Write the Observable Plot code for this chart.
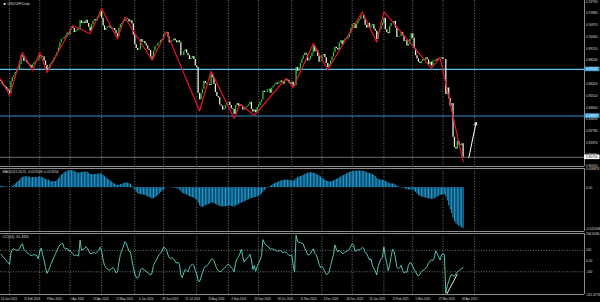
<!DOCTYPE html>
<html><head><meta charset="utf-8">
<script src="https://cdn.jsdelivr.net/npm/d3@7"></script>
<script src="https://cdn.jsdelivr.net/npm/@observablehq/plot@0.6"></script>
<style>
html,body{margin:0;padding:0;background:#000;}
#wrap{position:relative;width:600px;height:302px;background:#000;overflow:hidden;}
#wrap svg{position:absolute;left:0;display:block;}
</style></head>
<body><div id="wrap"></div>
<script>
// ---------- DATA ----------
const symbolTitle = "USDCHF,Daily";
const macdTitle = "MACD(12,26,9) -0.015508 -0.013254";
const cciTitle = "CCI(14) -61.4355";
const firstOpen = 8670; // pips (price x 10000)
// daily closes, 24 Jan 2024 .. 21 Apr 2025, price x 10000
const closes = [
8660,8635,8625,
8615,8600,8590,8565,8660, 8690,8705,8730,8745,8755, 8790,8860,8850,8815,8820, 8805,8795,8785,8765,8790,
8805,8815,8820,8835,8860, 8855,8850,8820,8785,8745, 8765,8790,8805,8820,8845, 8860,8885,8920,8960,8985,
8990,9000,9015,9035,9020, 9060,9080,9070,9040,9050, 9065,9060,9130,9110,9120, 9110,9135,9110,9080,9050,
9100,9125,9140,9130,9150, 9165,9200,9150,9090,9055, 9070,9080,9090,9075,9065, 9070,9055,9030,9005,9075,
9100,9110,9125,9150,9145, 9140,9120,9130,9105,9020, 8945,8915,8900,8905,8985, 8965,8970,8950,8935,8910,
8900,8850,8835,8895,8930, 8935,8955,8960,8980,8985, 9025,9035,9040,9005,8960, 8970,8975,8990,8975,8960,
8975,8960,8860,8860,8890, 8905,8880,8860,8830,8840, 8855,8830,8780,8770,8570, 8520,8565,8600,8660,8645,
8640,8640,8630,8720,8690, 8640,8575,8545,8535,8480, 8470,8440,8450,8475,8495, 8500,8475,8450,8445,8405,
8475,8490,8470,8480,8470, 8440,8450,8460,8470,8480, 8500,8445,8425,8440,8420, 8460,8475,8500,8520,8585,
8575,8575,8595,8600,8570, 8610,8625,8635,8650,8640, 8650,8665,8655,8640,8665, 8675,8670,8650,8640,8655,
8625,8630,8770,8740,8760, 8800,8830,8860,8880,8865, 8820,8830,8855,8880,8935, 8890,8900,8855,8810,8815,
8860,8870,8845,8800,8770, 8790,8820,8850,8885,8925, 8915,8905,8960,8975,8945, 8975,8990,8985,9000,
9030,9070,9100,9110, 9070,9105,9130,9140,9170, 9170,9145,9095,9075,9110, 9075,9090,9100,9065,9050,
8985,9040,9060,9090,9110, 9150,9060,9040,9030,9085, 9110,9110,9125,9075,9000, 9005,9010,9040,9015,8970,
8975,8935,8950,8985,9030, 8995,8915,8860,8835,8810, 8800,8815,8830,8825,8845, 8830,8790,8810,8780,8820,
8825,8820,8835,8830,8840, 8845,8830,8830,8560,8610, 8530,8470,8490,8230,8150, 8140,8200,8170,8165,8180,
8075];
// ZigZag pivots (bar index, price x 10000)
const zzBars  = [0,6,15,22,27,32,50,62,70,81,86,105,115,138,146,162,166,176,198,203,217,227,251,261,266,299,305,321];
const zzPrices = [8680,8552,8885,8745,8885,8730,9094,9030,9225,8990,9157,8825,9045,8433,8740,8375,8485,8400,8684,8615,8955,8750,9200,8965,9200,8765,8845,8040];
// MACD main (x 10000)
const macdVals = [
5,4,3,3,2,1,0,2, 5,9,14,19,23,28,34,38,40, 41,41,40,39,37,38, 38,38,38,39,40,39,37,34,31,28,
29,25,23,22,22,23,27,33, 40,47,52,56,59,62,63,64, 64,63,61,58,56,54,56,57,58,58,59,58,
54,50,49,49,50,50,50,51,52,50,
46,41,37,33,29,25,21,17,13,10,8,9,11,13,15,17,18,17,16,12,5,-2,
-10,-17,-22,-26,-26,-27,-28,-30,-32,-35,-37,-40,-42,-41,-38,
-34,-29,-24,-19,-14,-8,-3,0,1,0, -1,-2,-2,-3,-4,
-6,-9,-16,-21,-24,-26,-28,-31,-34,-37,-38,-40,-44,-47,-58,-68,-74,-74,-72,-68,
-66,-64,-62,-58,-58,-60, -63,-66,-68,-71,-72,-73,-73,-72,-71,
-70,-70,-71,-72,-73,-70,-67,-64,-61,-58,-56,-54,-51,-48,-45,-42,-41,-40,-38,-37,-35,-32,-29,
-24,-17,-11,-6,-2,
2,5,8,12,15,18,20,22,24,26,27,28,29,28,27,26,26,25,29,33,37,40,42,
44,47,50,52,54,55,56, 56,55,53,51,48,44,40, 36,32,28,25,23,22,22, 23,25,28,31,
34,37,40,43,46,49,52,55,57,59, 60,61,62,62,63,63,62,62,61, 59,57,55,53,51,
49,46,42,35,31,29,28,27,27, 24,20,17,15,14,14,13, 10,6,3,1,-1,
-2,-4,-6,-8,-9,-9,-8,-9,-13, -18,-24,-29,-33,-35,-37,-38,-39,-41,
-42,-43,-44,-44,-42,-39,-36, -33,-30,-28,-27,-26,
-35,-50,-68,-84,-97,-115,-128,-136,-141,-145,-148,-151,-155];
// CCI(14)
const cciVals = [
64,49,33,17,1,-14,-30, 70,110,115,105,100,100,115,150,160, 110,95,80,70,60,50,55,60,55,50,
20,90,120,60,10,-60,-115,-90,-60,-20, 10,40,70,100,130,150,160,165,120,110,120,95,
100,80,70,50,55,55,45,195,100,110, 115,135,120,95,70,70,75,80,70,85,100,130,95,10,-40,
-60,-75,-85,-80,-70,-60,-80,-110,-100,-10,60,100,130,180,170,130,90,85,10,-60,
-120,-150,-160,-140,-80,-70,-75,-90,-95,-110,-120,-130,-110,-40,-10,
10,40,60,75,95,130,120,105,60,30,25,30,20,
0,-20,-10,-30,-130,-155,-110,-80,-90,-100,-60,-40,-30,-40,-90,-120,-185,-190,-150,
-110,-70,-50,-45,-30,-10,15,20,5,
-40,-70,-90,-100,-95,-80,-70,-55,-40,-30,-40,-60,-75,-100,
-20,20,40,70,110,40,-10,10,30,40,65,10,-80,-40,-95,-50,-20,10,50,200,
170,150,140,130,110,115,110,105,100,90,95,100,85,80,85,80,70,55,50,55,
-40,-100,240,185,170,175,165,160,
120,95,60,55,70,95,115,70,60,20,-30,-60,
-50,-65,-100,-125,-120,-100,-40,10,60,150,
110,85,100,90,70,75,85,90,95,110,135,160,150,
90,100,105,100,115,125,120,80,70,40,10,20,
-40,-70,-90,-130,-50,-10,20,35,130,40,-20,-90,-40,
40,110,90,30,-60,-70,-60,-40,-90,-110,-100,-105,
-40,-15,-20,-50,-80,-100,-130,-140,-120,-100,-90,-80,-65,
-50,-20,0,10,5,30,95,70,40,10,60,70,60,
-300,-230,-190,-150,-125,-135,-140,-120,-100,-90,-80,-70,-61.4];
const dateLabels = ["24 Jan 2024","15 Feb 2024","8 Mar 2024","1 Apr 2024","23 Apr 2024","15 May 2024","6 Jun 2024","28 Jun 2024","22 Jul 2024","13 Aug 2024","4 Sep 2024","26 Sep 2024","18 Oct 2024","11 Nov 2024","3 Dec 2024","26 Dec 2024","20 Jan 2025","11 Feb 2025","5 Mar 2025","27 Mar 2025","18 Apr 2025"];
const monthStarts = ["2024-02-01","2024-03-01","2024-04-01","2024-05-01","2024-06-03","2024-07-01","2024-08-01","2024-09-02","2024-10-01","2024-11-01","2024-12-02","2025-01-02","2025-02-03","2025-03-03","2025-04-01","2025-05-01"];
const priceTicks = [0.92790,0.91880,0.90970,0.90060,0.89150,0.88240,0.86420,0.85510,0.84600,0.83690,0.82780,0.81870,0.80960,0.80050];
const levelPrices = [0.87542, 0.83937];
const bidPrice = 0.80750;
const arrowBars = [325, 330];
const arrowPrices = [0.8074, 0.8344];
const cciLineBars = [309.5, 317];
const cciLineVals = [-311, -121];
const macdScaleVals = [0.006878, 0, -0.015508];
const macdScaleText = ["0.006878", "0.00", "-0.015508"];
const cciScaleVals = [256.6246, 100, 0, -100, -311.4774];
const cciScaleText = ["256.6246", "100", "0.00", "-100", "-311.4774"];

// ---------- CALENDAR (trading days) ----------
const cal = [];
for (let t = Date.UTC(2024,0,24); cal.length < 420; t += 864e5) {
  const d = new Date(t), wd = d.getUTCDay(), m = d.getUTCMonth(), day = d.getUTCDate();
  if (wd === 0 || wd === 6 || (m === 0 && day === 1) || (m === 11 && day === 25)) continue;
  cal.push(d.toISOString().slice(0,10));
}
const barOf = new Map(cal.map((s,i)=>[s,i]));
const parseLbl = d3.utcParse("%d %b %Y"), fmtISO = d3.utcFormat("%Y-%m-%d");
const labelBars = dateLabels.map(s => ({i: barOf.get(fmtISO(parseLbl(s))), s}));
const gridBars = monthStarts.map(s => barOf.get(s));

// ---------- DERIVED TABLES ----------
const bars = closes.map((c,i)=>({i, o:(i ? closes[i-1] : firstOpen)/10000, c:c/10000}));
const up = bars.filter(b=>b.c>=b.o), dn = bars.filter(b=>b.c<b.o);
const zz = zzBars.map((b,k)=>({i:b, p:zzPrices[k]/10000}));
const macd = macdVals.map((v,i)=>({i, v:v/10000}));
const cci = cciVals.map((v,i)=>({i, v}));

// ---------- LAYOUT ----------
const FONT = "Liberation Sans";
const FS = 3.4;     // titles
const AX = 3.2;     // right-hand scale
const DT = 2.9;     // time axis
const GRAY = "#8a8a8a";
const xDomain = [-0.25, 405.3];
const plotW = 584;
const pxX = (xDomain[1]-xDomain[0])/plotW;
const X = {domain: xDomain, axis: null};
const common = {width: 600, marginLeft: 0, marginRight: 600-plotW,
  style: {background: "transparent", color: "#ddd", fontFamily: FONT, fontSize: FS+"px", overflow: "visible"}};
const grid = () => Plot.ruleX(gridBars, {stroke: "#c4c4c4", strokeWidth: 0.6, strokeDasharray: "1,1.6"});
const txt = {fill: "#dcdcdc", fontSize: FS, fontFamily: FONT};
const axt = {fill: "#dcdcdc", fontSize: AX, fontFamily: FONT, frameAnchor: "right", dx: 1.5, textAnchor: "start"};

// ---- main price panel ----
const yMain = [0.80040, 0.92868];
const pyMain = (yMain[1]-yMain[0])/166;
const boxes = [
  {v: levelPrices[0], bg: "#3f9fd8", fg: "#ffffff"},
  {v: levelPrices[1], bg: "#3f9fd8", fg: "#ffffff"},
  {v: bidPrice, bg: "#ffffff", fg: "#000000"}
];
const main = Plot.plot({...common, height: 167, marginTop: 0, marginBottom: 1,
  x: X, y: {domain: yMain, axis: null},
  marks: [
    grid(),
    Plot.ruleY([levelPrices[0]], {stroke: "#5cbcea", strokeWidth: 1.1}),
    Plot.ruleY([levelPrices[1]], {stroke: "#3a8ccc", strokeWidth: 1.1}),
    Plot.ruleY([bidPrice], {stroke: "#9a9a9a", strokeWidth: 0.7}),
    Plot.ruleX(up, {x: "i", y1: "o", y2: "c", stroke: "#33cc33", strokeWidth: 1.25}),
    Plot.ruleX(dn, {x: "i", y1: "o", y2: "c", stroke: "#eef3e0", strokeWidth: 1.25}),
    Plot.line(zz, {x: "i", y: "p", stroke: "#e3142b", strokeWidth: 1.2}),
    Plot.arrow([0], {x1: () => arrowBars[0], y1: () => arrowPrices[0], x2: () => arrowBars[1], y2: () => arrowPrices[1],
      stroke: "#ffffff", strokeWidth: 1, headLength: 4}),
    Plot.ruleX([xDomain[1]], {stroke: GRAY, strokeWidth: 1}),
    Plot.ruleY([yMain[0]], {stroke: GRAY, strokeWidth: 1}),
    Plot.text(priceTicks, {y: d => d, text: d => d.toFixed(5), ...axt}),
    Plot.rect(boxes, {x1: () => xDomain[1], x2: () => xDomain[1] + 15.5*pxX,
      y1: d => d.v - 2.3*pyMain, y2: d => d.v + 2.3*pyMain, fill: "bg"}),
    Plot.text(boxes, {y: "v", text: d => d.v.toFixed(5), ...axt, fill: "fg"}),
    Plot.text(["\u25A0"], {frameAnchor: "top-left", dx: 3, dy: 3.5, textAnchor: "start", lineAnchor: "middle", fill: "#fff", fontSize: 3.4}),
    Plot.text([symbolTitle], {frameAnchor: "top-left", dx: 7, dy: 3.5, textAnchor: "start", lineAnchor: "middle", ...txt})
  ]});
main.style.top = "0px";

// ---- MACD panel ----
const macdDom = [-0.0165, 0.0072];
const macdPlot = Plot.plot({...common, height: 65, marginTop: 1, marginBottom: 1,
  x: X, y: {domain: macdDom, axis: null},
  marks: [
    grid(),
    Plot.ruleX(macd, {x: "i", y1: 0, y2: "v", stroke: "#1e9edb", strokeWidth: 1}),
    Plot.ruleX([xDomain[1]], {stroke: GRAY, strokeWidth: 1}),
    Plot.ruleY([macdDom[0]], {stroke: GRAY, strokeWidth: 1}),
    Plot.ruleY([macdDom[1]], {stroke: GRAY, strokeWidth: 1}),
    Plot.text(macdScaleVals, {y: d => d, text: (d,k) => macdScaleText[k], ...axt}),
    Plot.text([macdTitle], {frameAnchor: "top-left", dx: 2, dy: 3.5, textAnchor: "start", lineAnchor: "middle", ...txt})
  ]});
macdPlot.style.top = "167px";

// ---- CCI panel ----
const cciDom = [-311.4774, 256.6246];
const cciPlot = Plot.plot({...common, height: 70, marginTop: 1, marginBottom: 8,
  x: X, y: {domain: cciDom, axis: null},
  marks: [
    grid(),
    Plot.ruleY([100, -100], {stroke: "#bdbdbd", strokeWidth: 0.6, strokeDasharray: "1,1.6"}),
    Plot.line(cci, {x: "i", y: "v", stroke: "#5fd6c6", strokeWidth: 0.9}),
    Plot.link([0], {x1: () => cciLineBars[0], y1: () => cciLineVals[0], x2: () => cciLineBars[1], y2: () => cciLineVals[1],
      stroke: "#ffffff", strokeWidth: 0.9}),
    Plot.ruleX([xDomain[1]], {stroke: GRAY, strokeWidth: 1}),
    Plot.ruleY([cciDom[0]], {stroke: GRAY, strokeWidth: 1}),
    Plot.ruleY([cciDom[1]], {stroke: GRAY, strokeWidth: 1}),
    Plot.text(cciScaleVals, {y: d => d, text: (d,k) => cciScaleText[k], ...axt, dy: 0}),
    Plot.text([cciTitle], {frameAnchor: "top-left", dx: 2, dy: 3.5, textAnchor: "start", lineAnchor: "middle", ...txt}),
    Plot.text(labelBars, {x: "i", text: "s", frameAnchor: "bottom", dy: 4.3, textAnchor: "start", lineAnchor: "middle",
      fill: "#dcdcdc", fontSize: DT, fontFamily: FONT})
  ]});
cciPlot.style.top = "232px";

const wrap = document.getElementById("wrap");
wrap.append(main, macdPlot, cciPlot);
</script>
</body></html>
